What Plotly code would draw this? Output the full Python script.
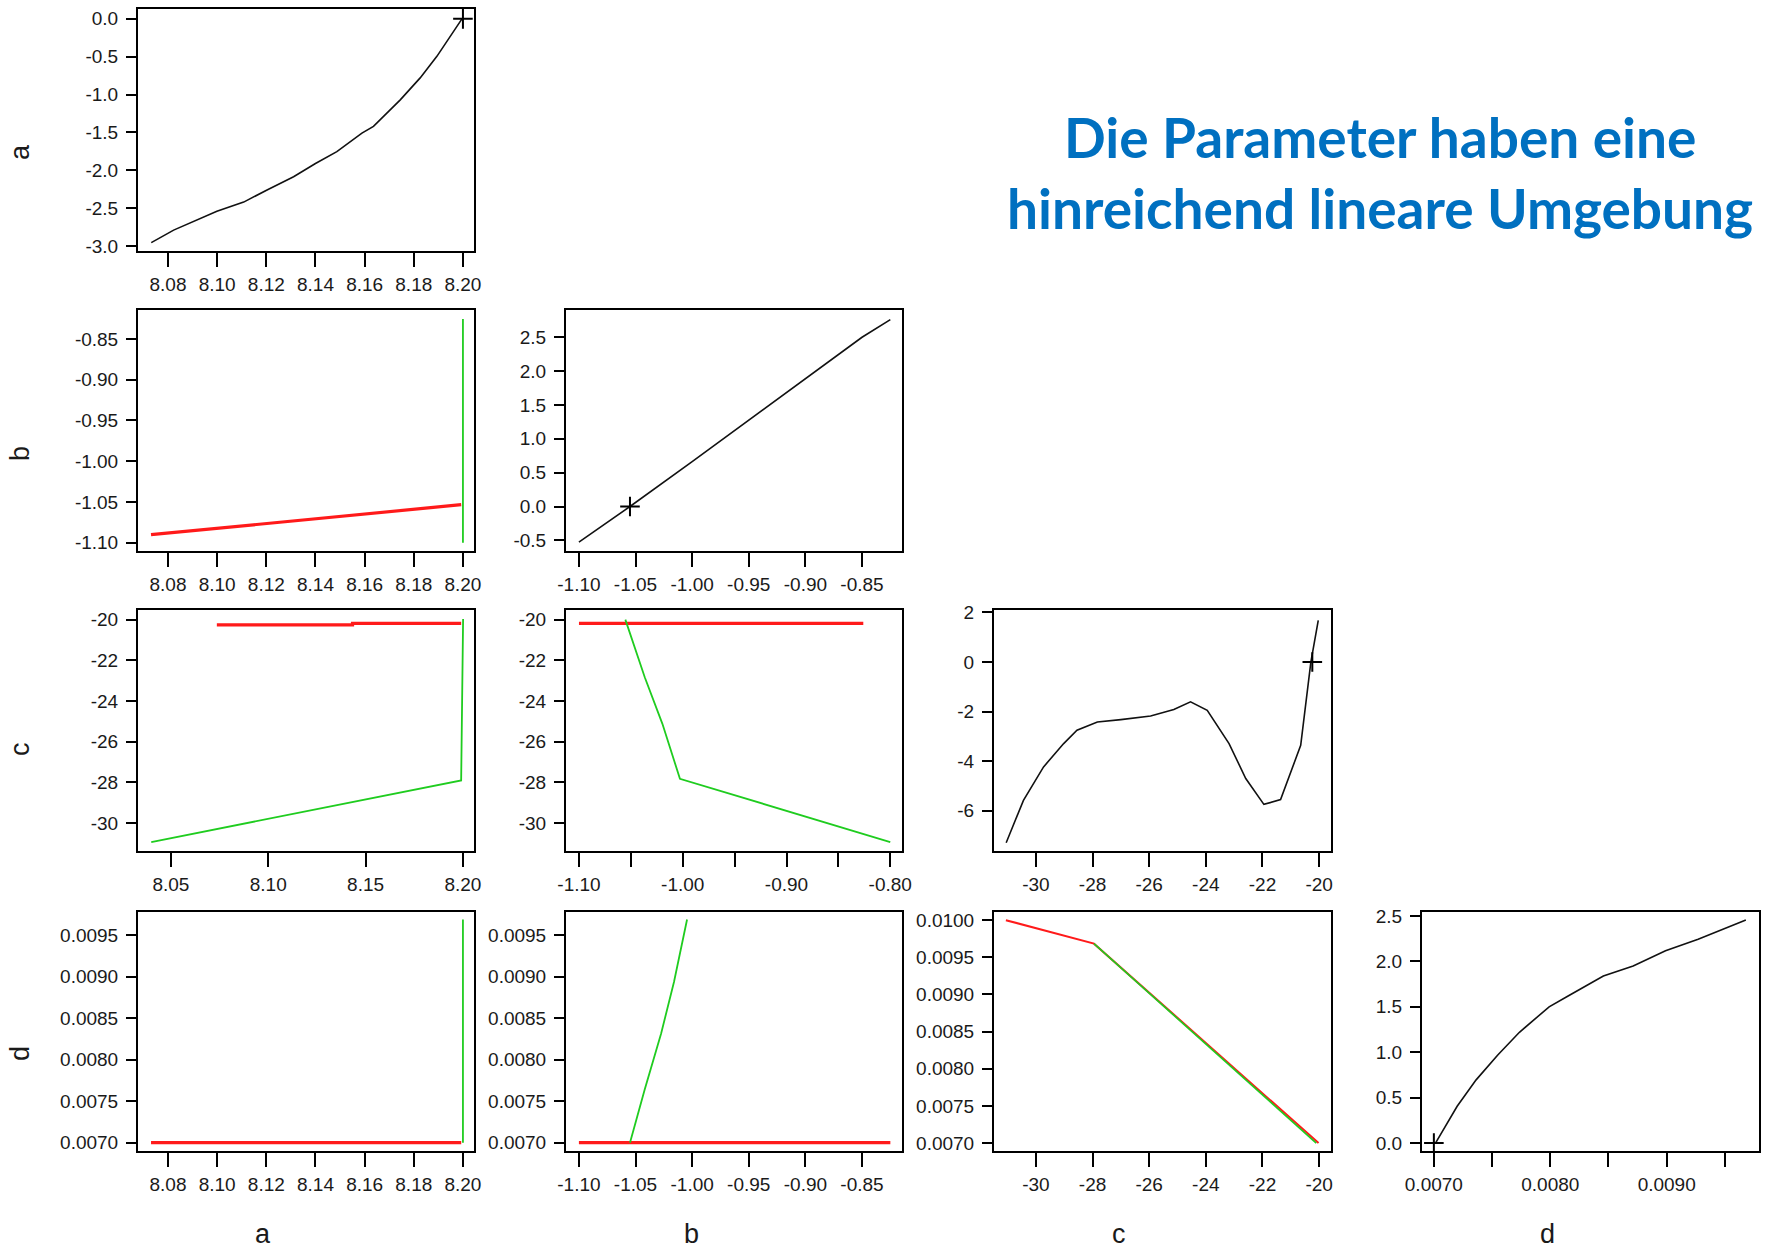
import plotly.graph_objects as go

W, H = 1767, 1249

# ---- profile traces (tau vs parameter) on the diagonal ----
aa_a = [8.0732, 8.0823, 8.0999, 8.1108, 8.1203, 8.1311, 8.1400, 8.1487, 8.1589, 8.1636, 8.1745, 8.1826, 8.1894, 8.1962, 8.1996]
aa_tau = [-2.956, -2.79, -2.54, -2.42, -2.26, -2.085, -1.91, -1.754, -1.51, -1.42, -1.07, -0.78, -0.495, -0.163, 0.0]

bb_b = [-1.10, -1.0549, -1.0, -0.95, -0.90, -0.85, -0.825]
bb_tau = [-0.525, 0.0, 0.664, 1.28, 1.894, 2.5, 2.76]

cc_c = [-31.05, -30.44, -29.73, -29.02, -28.55, -27.83, -27.0, -25.95, -25.13, -24.54, -23.95, -23.18, -22.59, -21.95, -21.36, -20.65, -20.29, -20.03]
cc_tau = [-7.285, -5.58, -4.23, -3.29, -2.755, -2.42, -2.325, -2.18, -1.92, -1.61, -1.95, -3.29, -4.70, -5.74, -5.55, -3.36, 0.0, 1.68]

dd_d = [0.007014, 0.0072, 0.007363, 0.007549, 0.007735, 0.00799, 0.008153, 0.008456, 0.008712, 0.00899, 0.00927, 0.00968]
dd_tau = [0.0, 0.405, 0.696, 0.97, 1.22, 1.50, 1.62, 1.84, 1.95, 2.117, 2.245, 2.456]

# parameter estimates (marked with +)
est_a, est_b, est_c, est_d = 8.20, -1.0549, -20.24, 0.0070

# ---- profile pair traces (below the diagonal) ----
# row b, column a
ba_red_a = [8.0731, 8.10, 8.13, 8.16, 8.1993]
ba_red_b = [-1.0902, -1.0824, -1.0736, -1.0649, -1.0534]
ba_grn_a = [8.2, 8.2]
ba_grn_b = [-1.100, -0.8255]

# row c, column a
ca_red_a = [8.0736, 8.1433, 8.1433, 8.1991]
ca_red_c = [-20.26, -20.26, -20.18, -20.18]
ca_grn_a = [8.0399, 8.1991, 8.2001]
ca_grn_c = [-30.93, -27.905, -19.97]

# row c, column b
cb_red_b = [-1.10, -0.826]
cb_red_c = [-20.18, -20.18]
cb_grn_b = [-1.0553, -1.0366, -1.0196, -1.0027, -0.80]
cb_grn_c = [-20.0, -22.83, -25.12, -27.82, -30.93]

# row d, column a
da_red_a = [8.0731, 8.1993]
da_red_d = [0.0070, 0.0070]
da_grn_a = [8.2, 8.2]
da_grn_d = [0.0070, 0.00969]

# row d, column b
db_red_b = [-1.10, -0.825]
db_red_d = [0.0070, 0.0070]
db_grn_b = [-1.0549, -1.0419, -1.0274, -1.016, -1.0045]
db_grn_d = [0.0070, 0.00764, 0.008316, 0.00894, 0.00969]

# row d, column c
dc_red_c = [-31.06, -27.95, -20.02]
dc_red_d = [0.0100, 0.009684, 0.0070]
dc_grn_c = [-27.95, -20.10]
dc_grn_d = [0.009684, 0.0070]

# ---- tick definitions ----
ticks_a = [8.08, 8.10, 8.12, 8.14, 8.16, 8.18, 8.20]
ticks_a_wide = [8.05, 8.10, 8.15, 8.20]
ticks_b = [-1.10, -1.05, -1.00, -0.95, -0.90, -0.85]
ticks_b_wide = [-1.10, -1.05, -1.00, -0.95, -0.90, -0.85, -0.80]
ticks_c = [-30, -28, -26, -24, -22, -20]
ticks_d = [0.0070, 0.0075, 0.0080, 0.0085, 0.0090, 0.0095]
ticks_d_wide = [0.0070, 0.0075, 0.0080, 0.0085, 0.0090, 0.0095, 0.0100]
ticks_tau_a = [0.0, -0.5, -1.0, -1.5, -2.0, -2.5, -3.0]
ticks_tau_b = [-0.5, 0.0, 0.5, 1.0, 1.5, 2.0, 2.5]
ticks_tau_c = [-6, -4, -2, 0, 2]
ticks_tau_d = [0.0, 0.5, 1.0, 1.5, 2.0, 2.5]

row_labels = ["a", "b", "c", "d"]
col_labels = ["a", "b", "c", "d"]
title_lines = ["Die Parameter haben eine", "hinreichend lineare Umgebung"]


def fmt(v, nd):
    return f"{v:.{nd}f}"


def lab(vals, nd, keep=None):
    out = []
    for i, v in enumerate(vals):
        if keep is None or keep(i):
            out.append(fmt(v, nd))
        else:
            out.append("")
    return out


# panel boxes in pixels: columns (left, right) and rows (top, bottom)
COLS = [(138, 474), (566, 902), (994, 1331), (1422, 1759)]
ROWS = [(9, 251), (310, 551), (610, 851), (912, 1151)]

RED = "#ff1a1a"
GREEN = "#1fcc1f"
BLACK = "#111111"

# x-axis settings per panel (range, tickvals, ticktext)
xa_std = ([8.0678, 8.2045], ticks_a, lab(ticks_a, 2))
xa_wide = ([8.0331, 8.2057], ticks_a_wide, lab(ticks_a_wide, 2))
xb_std = ([-1.1114, -0.8147], ticks_b, lab(ticks_b, 2))
xb_wide = ([-1.1125, -0.7887], ticks_b_wide, lab(ticks_b_wide, 2, lambda i: i % 2 == 0))
xc_std = ([-31.48, -19.58], ticks_c, lab(ticks_c, 0))
xd_std = ([0.006898, 0.009793], ticks_d, lab(ticks_d, 4, lambda i: i % 2 == 0))

ya_tau = ([-3.066, 0.13], ticks_tau_a, lab(ticks_tau_a, 1))
yb_a = ([-1.1102, -0.8145], ticks_b, lab(ticks_b, 2))
yb_tau = ([-0.657, 2.903], ticks_tau_b, lab(ticks_tau_b, 1))
yc_ab = ([-31.37, -19.525], ticks_c, lab(ticks_c, 0))
yc_tau = ([-7.62, 2.094], ticks_tau_c, lab(ticks_tau_c, 0))
yd_ab = ([0.0069, 0.00978], ticks_d, lab(ticks_d, 4))
yd_c = ([0.006893, 0.01011], ticks_d_wide, lab(ticks_d_wide, 4))
yd_tau = ([-0.087, 2.544], ticks_tau_d, lab(ticks_tau_d, 1))

panels = [
    # (row, col, xaxis spec, yaxis spec, traces, estimate marker)
    (0, 0, xa_std, ya_tau, [(aa_a, aa_tau, BLACK, 1.6)], (est_a, 0.0)),
    (1, 0, xa_std, yb_a, [(ba_red_a, ba_red_b, RED, 3.2), (ba_grn_a, ba_grn_b, GREEN, 1.8)], None),
    (1, 1, xb_std, yb_tau, [(bb_b, bb_tau, BLACK, 1.6)], (est_b, 0.0)),
    (2, 0, xa_wide, yc_ab, [(ca_red_a, ca_red_c, RED, 3.2), (ca_grn_a, ca_grn_c, GREEN, 1.8)], None),
    (2, 1, xb_wide, yc_ab, [(cb_red_b, cb_red_c, RED, 3.2), (cb_grn_b, cb_grn_c, GREEN, 1.8)], None),
    (2, 2, xc_std, yc_tau, [(cc_c, cc_tau, BLACK, 1.6)], (est_c, 0.0)),
    (3, 0, xa_std, yd_ab, [(da_red_a, da_red_d, RED, 3.2), (da_grn_a, da_grn_d, GREEN, 1.8)], None),
    (3, 1, xb_std, yd_ab, [(db_red_b, db_red_d, RED, 3.2), (db_grn_b, db_grn_d, GREEN, 1.8)], None),
    (3, 2, xc_std, yd_c, [(dc_red_c, dc_red_d, RED, 2.0), (dc_grn_c, dc_grn_d, GREEN, 1.7)], None),
    (3, 3, xd_std, yd_tau, [(dd_d, dd_tau, BLACK, 1.6)], (est_d, 0.0)),
]

TICK_FONT = dict(family="Liberation Sans Narrow, Arial Narrow, Liberation Sans, Arial, sans-serif",
                 size=19, color="#1a1a1a")

fig = go.Figure()
layout = dict(
    template="none",
    width=W, height=H,
    margin=dict(l=0, r=0, t=0, b=0, pad=0, autoexpand=False),
    paper_bgcolor="white", plot_bgcolor="white",
    showlegend=False,
)

for n, (r, c, xs, ys, traces, est) in enumerate(panels, start=1):
    xid = "x" if n == 1 else f"x{n}"
    yid = "y" if n == 1 else f"y{n}"
    xl, xr = COLS[c]
    yt, yb = ROWS[r]
    common = dict(showline=True, mirror=True, linecolor="black", linewidth=2,
                  ticks="outside", tickcolor="black", tickwidth=2, automargin=False,
                  showgrid=False, zeroline=False, tickfont=TICK_FONT, fixedrange=True)
    layout["xaxis" if n == 1 else f"xaxis{n}"] = dict(
        domain=[xl / W, xr / W], range=xs[0], tickmode="array",
        tickvals=xs[1], ticktext=xs[2], anchor=yid, ticklen=14,
        ticklabelstandoff=1, **common)
    layout["yaxis" if n == 1 else f"yaxis{n}"] = dict(
        domain=[1 - yb / H, 1 - yt / H], range=ys[0], tickmode="array",
        tickvals=ys[1], ticktext=ys[2], anchor=xid, ticklen=10,
        ticklabelstandoff=4, **common)
    for (tx, ty, col, lw) in traces:
        fig.add_trace(go.Scatter(x=tx, y=ty, mode="lines", xaxis=xid, yaxis=yid,
                                 line=dict(color=col, width=lw), hoverinfo="skip"))
    if est is not None:
        fig.add_trace(go.Scatter(x=[est[0]], y=[est[1]], mode="markers", xaxis=xid, yaxis=yid,
                                 marker=dict(symbol="cross-thin", size=14,
                                             line=dict(color="black", width=2)),
                                 hoverinfo="skip"))

annotations = []
# row labels on the left (rotated)
row_label_y = [152, 454, 749, 1054]
for txt, yp in zip(row_labels, row_label_y):
    annotations.append(dict(text=txt, x=20 / W, y=1 - yp / H, xref="paper", yref="paper",
                            showarrow=False, textangle=-90, xanchor="center", yanchor="middle",
                            font=dict(family="Liberation Sans, Arial, sans-serif", size=27, color="#1a1a1a")))
# column labels below the bottom row
col_label_x = [263, 691, 1119, 1547]
for txt, xp in zip(col_labels, col_label_x):
    annotations.append(dict(text=txt, x=xp / W, y=1 - 1234 / H, xref="paper", yref="paper",
                            showarrow=False, xanchor="center", yanchor="middle",
                            font=dict(family="Liberation Sans, Arial, sans-serif", size=27, color="#1a1a1a")))
# headline text
for txt, yp in zip(title_lines, [137, 208]):
    annotations.append(dict(text=f"<b>{txt}</b>", x=1380 / W, y=1 - yp / H, xref="paper", yref="paper",
                            showarrow=False, xanchor="center", yanchor="middle",
                            font=dict(family="Lato, Open Sans, sans-serif", size=55, color="#0070c0")))

layout["annotations"] = annotations
fig.update_layout(**layout)
fig.write_html("out.html")
